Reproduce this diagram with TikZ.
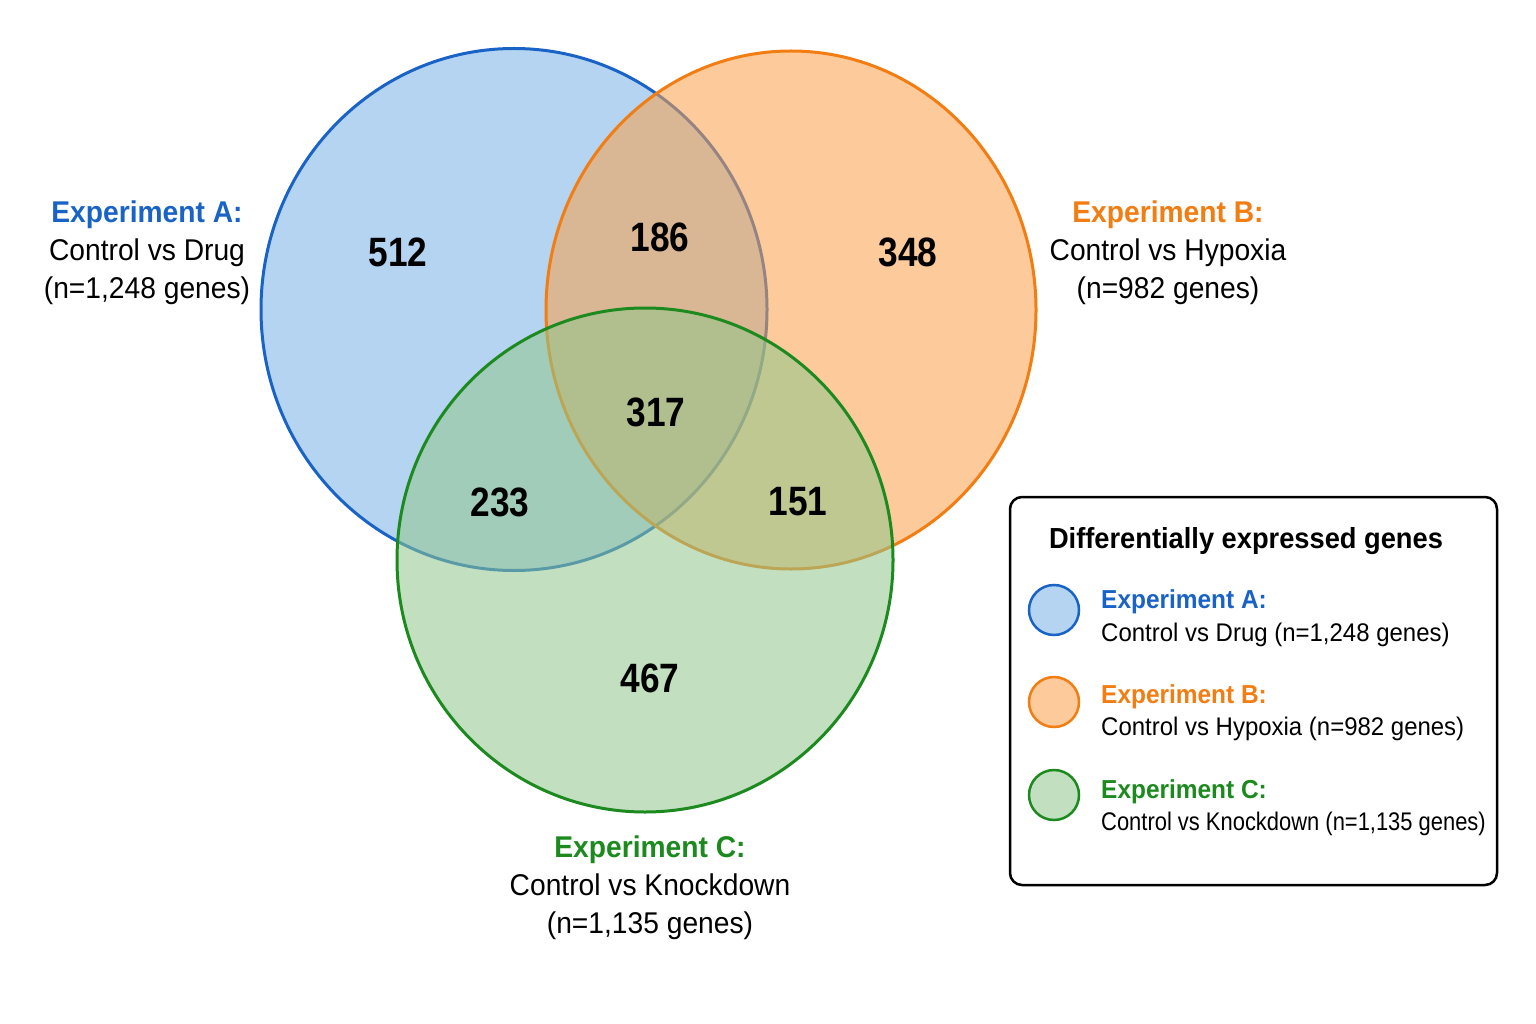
\documentclass[tikz,border=0pt]{standalone}
\usepackage{fontspec}
\setmainfont[FakeStretch=0.94]{Liberation Sans}
\newfontfamily\numfont[FakeStretch=0.86]{Liberation Sans}
\newfontfamily\narrowfont[FakeStretch=0.86]{Liberation Sans}
\definecolor{cAline}{HTML}{1A63C6}
\definecolor{cBline}{HTML}{F27D12}
\definecolor{cCline}{HTML}{1C8A1E}
\definecolor{cAfill}{HTML}{78B1E6}
\definecolor{cBfill}{HTML}{FBA049}
\definecolor{cCfill}{HTML}{90C78C}
\tikzset{
  setA/.style={draw=cAline, line width=3pt, fill=cAfill, fill opacity=0.55},
  setB/.style={draw=cBline, line width=3pt, fill=cBfill, fill opacity=0.55},
  setC/.style={draw=cCline, line width=3pt, fill=cCfill, fill opacity=0.55},
  num/.style={font=\numfont\bfseries\fontsize{41}{41}\selectfont, text=black, inner sep=0pt},
  lab/.style={font=\fontsize{30}{38}\selectfont, align=center, text=black, inner sep=0pt},
  legtitle/.style={font=\bfseries\fontsize{29}{29}\selectfont, inner sep=0pt},
  leghead/.style={font=\bfseries\fontsize{26}{26}\selectfont, anchor=west, inner sep=0pt},
  legbody/.style={font=\fontsize{25.5}{25.5}\selectfont, anchor=west, inner sep=0pt},
  legdot/.style={circle, minimum size=50pt, inner sep=0pt, line width=2.5pt},
}
\begin{document}
\begin{tikzpicture}[x=1pt,y=-1pt]
\useasboundingbox[fill=white] (0,0) rectangle (1536,1024);
% sets
\path[setA] (514,309.5) ellipse [x radius=253pt, y radius=261pt];
\path[setB] (791,310) ellipse [x radius=245pt, y radius=259pt];
\path[setC] (645,560) ellipse [x radius=248pt, y radius=252pt];
% region counts
\node[num] (nA)   at (398,252) {512};
\node[num] (nAB)  at (660,237) {186};
\node[num] (nB)   at (908,252) {348};
\node[num] (nABC) at (656,412) {317};
\node[num] (nAC)  at (500,502) {233};
\node[num] (nBC)  at (798,502) {151};
\node[num] (nC)   at (650,678) {467};
% set labels
\node[lab] (labA) at (147,253) {\textbf{\color{cAline}Experiment A:}\\Control vs Drug\\(n=1,248 genes)};
\node[lab] (labB) at (1168,253) {\textbf{\color{cBline}Experiment B:}\\Control vs Hypoxia\\(n=982 genes)};
\node[lab] (labC) at (650,888) {\textbf{\color{cCline}Experiment C:}\\Control vs Knockdown\\(n=1,135 genes)};
% legend
\draw[line width=2.5pt, rounded corners=12pt, fill=white] (1010,497) rectangle (1497,885);
\node[legtitle] (legT) at (1246,541) {Differentially expressed genes};
\node[legdot, draw=cAline, fill=cAfill, fill opacity=0.55] (dA) at (1054,610) {};
\node[legdot, draw=cBline, fill=cBfill, fill opacity=0.55] (dB) at (1054,702) {};
\node[legdot, draw=cCline, fill=cCfill, fill opacity=0.55] (dC) at (1054,795) {};
\node[leghead, text=cAline] (hA) at (1101,602) {Experiment A:};
\node[legbody] (bA) at (1101,635) {Control vs Drug (n=1,248 genes)};
\node[leghead, text=cBline] (hB) at (1101,697) {Experiment B:};
\node[legbody] (bB) at (1101,729) {Control vs Hypoxia (n=982 genes)};
\node[leghead, text=cCline] (hC) at (1101,792) {Experiment C:};
\node[legbody] (bC) at (1101,824) {\narrowfont Control vs Knockdown (n=1,135 genes)};
\end{tikzpicture}
\end{document}
